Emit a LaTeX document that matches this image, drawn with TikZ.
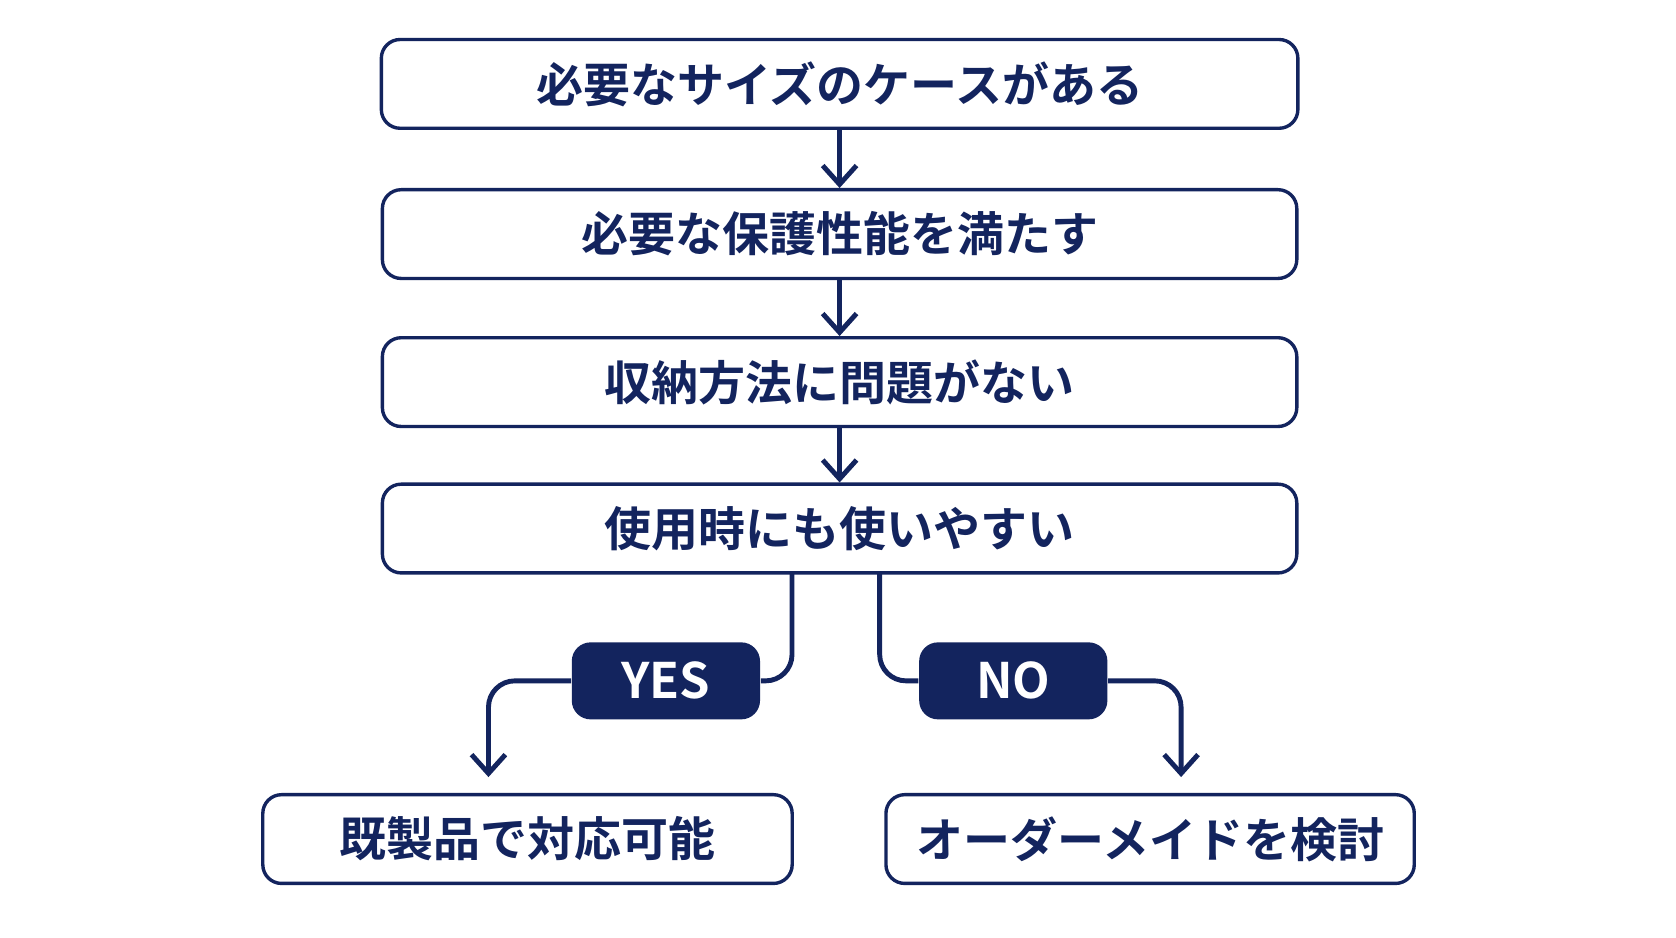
\documentclass[tikz,border=0pt]{standalone}
\usepackage{fontspec}
\setmainfont{Noto Sans CJK JP}[BoldFont={* Bold}]
\usetikzlibrary{arrows.meta}
\definecolor{navy}{HTML}{13245E}
\begin{document}
\begin{tikzpicture}[
        x=0.01cm, y=-0.01cm,
        font=\bfseries\fontsize{12.5}{15}\selectfont,
        text=navy
    ]
    \tikzset{
        mybox/.style = {draw=navy, line width=0.9pt, rounded corners=5pt, fill=white, minimum height=0.83cm, align=center},
        mytag/.style = {fill=navy, rounded corners=5pt, text=white, minimum width=1.76cm, minimum height=0.72cm, font=\bfseries\fontsize{13}{15}\selectfont},
        myarrow/.style = {draw=navy, line width=1.3pt, -{Straight Barb[length=5pt,width=9pt]}},
        myline/.style = {draw=navy, line width=1.3pt, rounded corners=7pt},
    }
    \useasboundingbox[fill=white] (0,0) rectangle (1568,877);
    \node[mybox, minimum width=8.57cm] at (785.5,78.5) (size) {必要なサイズのケースがある};
    \node[mybox, minimum width=8.55cm] at (785.5,219) (prot) {必要な保護性能を満たす};
    \node[mybox, minimum width=8.55cm] at (785.5,357.5) (store) {収納方法に問題がない};
    \node[mybox, minimum width=8.55cm] at (785.5,494.5) (use) {使用時にも使いやすい};
    \node[mybox, minimum width=4.95cm] at (493.5,785) (ready) {既製品で対応可能};
    \node[mybox, minimum width=4.94cm] at (1076,785) (order) {オーダーメイドを検討};
    \node[mytag] at (623,637) (yes) {YES};
    \node[mytag] at (948,637) (no) {NO};
    \coordinate (ys) at (741,535);
    \coordinate (ns) at (823,535);
    %
    \draw[myarrow] (size) -- (prot);
    \draw[myarrow] (prot) -- (store);
    \draw[myarrow] (store) -- (use);
    %
    \draw[myline] (ys) |- (yes.east);
    \draw[myline] (ns) |- (no.west);
    \draw[myarrow, rounded corners=7pt] (yes.west) -| (457,727);
    \draw[myarrow, rounded corners=7pt] (no.east) -| (1105,727);
\end{tikzpicture}
\end{document}
